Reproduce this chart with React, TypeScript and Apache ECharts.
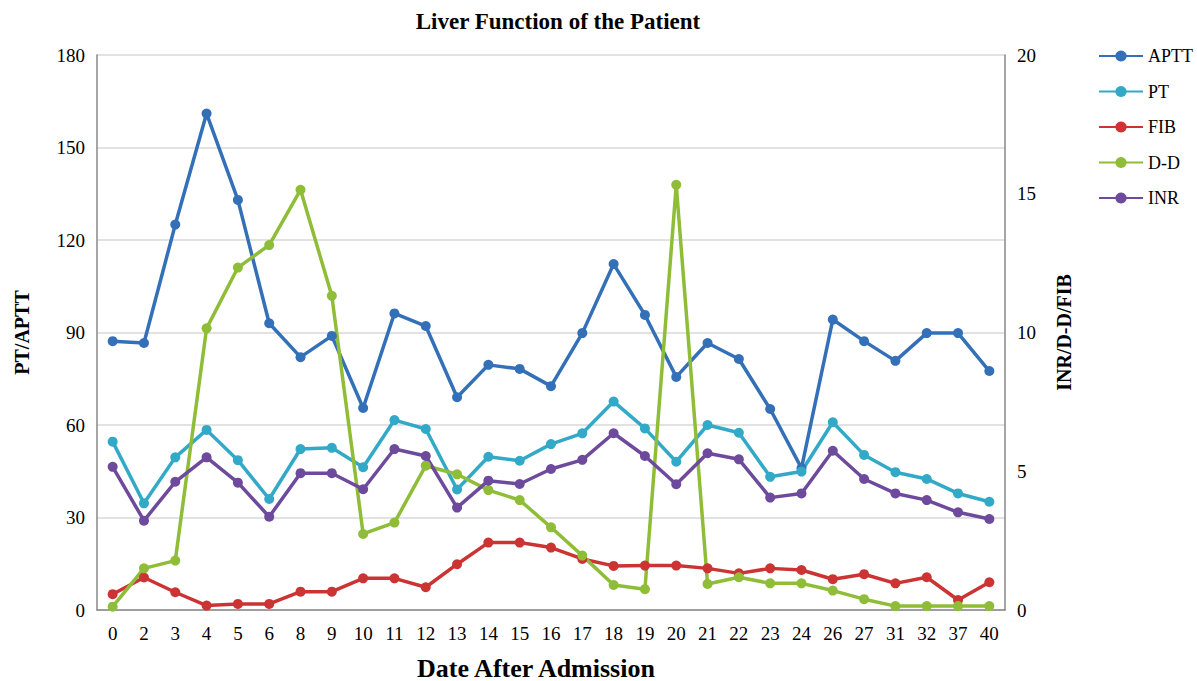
import React, { useEffect, useRef } from "react";
import * as echarts from "echarts";

const categories = ["0","2","3","4","5","6","8","9","10","11","12","13","14","15","16","17","18","19","20","21","22","23","24","26","27","31","32","37","40"];
const aptt = [87.2,86.6,125,161,133,93,82,88.9,65.5,96.2,92.1,69,79.5,78.2,72.6,89.8,112.2,95.7,75.6,86.6,81.4,65.2,46,94.2,87.2,80.8,89.8,89.8,77.5];
const pt = [54.6,34.6,49.5,58.4,48.6,36,52.2,52.6,46.3,61.6,58.7,39.1,49.7,48.4,53.8,57.3,67.6,58.9,48.1,60,57.5,43.2,44.9,60.9,50.3,44.7,42.5,37.8,35.1];
const fib = [0.57,1.17,0.64,0.16,0.22,0.22,0.66,0.66,1.14,1.14,0.82,1.65,2.43,2.43,2.25,1.84,1.59,1.6,1.6,1.5,1.32,1.5,1.44,1.11,1.29,0.96,1.18,0.36,1.0];
const dd = [0.12,1.5,1.78,10.15,12.34,13.15,15.14,11.32,2.74,3.15,5.2,4.89,4.32,3.96,2.98,1.96,0.9,0.75,15.32,0.94,1.18,0.96,0.96,0.7,0.39,0.14,0.14,0.14,0.14];
const inr = [5.16,3.22,4.62,5.5,4.59,3.36,4.93,4.93,4.35,5.8,5.55,3.69,4.66,4.54,5.08,5.41,6.37,5.55,4.53,5.65,5.43,4.05,4.2,5.74,4.72,4.2,3.96,3.52,3.28];

const FONT = "Liberation Serif";

export default function App() {
  const ref = useRef<HTMLDivElement>(null);
  useEffect(() => {
    if (!ref.current) return;
    const chart = echarts.init(ref.current, null, { renderer: "svg" });
    const mk = (name: string, data: number[], color: string, yAxisIndex: number) => ({
      name,
      type: "line",
      data,
      yAxisIndex,
      symbol: "circle",
      symbolSize: 10,
      lineStyle: { width: 3.5, color },
      itemStyle: { color },
      z: 2,
    });
    chart.setOption({
      animation: false,
      backgroundColor: "#ffffff",
      textStyle: { fontFamily: FONT },
      title: {
        text: "Liver Function of the Patient",
        left: 553,
        top: 5,
        textAlign: "center",
        textStyle: { fontFamily: FONT, fontSize: 23, fontWeight: "bold", color: "#000" },
      },
      legend: {
        orient: "vertical",
        left: 1093,
        top: 42,
        itemGap: 17.5,
        itemWidth: 44,
        itemHeight: 14,
        textStyle: { fontFamily: FONT, fontSize: 18, color: "#000" },
        data: ["APTT", "PT", "FIB", "D-D", "INR"],
      },
      grid: { left: 97, right: 192, top: 55, bottom: 71, outerBoundsMode: "none", containLabel: false },
      xAxis: {
        type: "category",
        data: categories,
        boundaryGap: true,
        name: "Date After Admission",
        nameLocation: "middle",
        nameGap: 45,
        nameTextStyle: { fontFamily: FONT, fontSize: 26, fontWeight: "bold", color: "#000", padding: [0, 30, 0, 0] },
        axisLine: { lineStyle: { color: "#888", width: 1.5 } },
        axisTick: { show: false },
        axisLabel: { fontFamily: FONT, fontSize: 19, color: "#000", margin: 14, interval: 0 },
      },
      yAxis: [
        {
          type: "value",
          min: 0,
          max: 180,
          interval: 30,
          name: "PT/APTT",
          nameLocation: "middle",
          nameGap: 65,
          nameTextStyle: { fontFamily: FONT, fontSize: 20, fontWeight: "bold", color: "#000" },
          axisLine: { show: true, lineStyle: { color: "#888", width: 1.5 } },
          axisTick: { show: false },
          axisLabel: { fontFamily: FONT, fontSize: 19, color: "#000", margin: 12 },
          splitLine: { lineStyle: { color: "#d9d9d9", width: 1.5 } },
        },
        {
          type: "value",
          min: 0,
          max: 20,
          interval: 5,
          name: "INR/D-D/FIB",
          nameLocation: "middle",
          nameGap: 49,
          nameRotate: 90,
          nameTextStyle: { fontFamily: FONT, fontSize: 20, fontWeight: "bold", color: "#000" },
          axisLine: { show: true, lineStyle: { color: "#888", width: 1.5 } },
          axisTick: { show: false },
          axisLabel: { fontFamily: FONT, fontSize: 19, color: "#000", margin: 12 },
          splitLine: { show: false },
        },
      ],
      series: [
        mk("APTT", aptt, "#3470b8", 0),
        mk("PT", pt, "#33a9c8", 0),
        mk("FIB", fib, "#cc3333", 1),
        mk("D-D", dd, "#8fbd38", 1),
        mk("INR", inr, "#6e4a9c", 1),
      ],
    });
    return () => chart.dispose();
  }, []);
  return <div ref={ref} style={{ position: "absolute", left: 0, top: 0, width: 1197, height: 681 }} />;
}
